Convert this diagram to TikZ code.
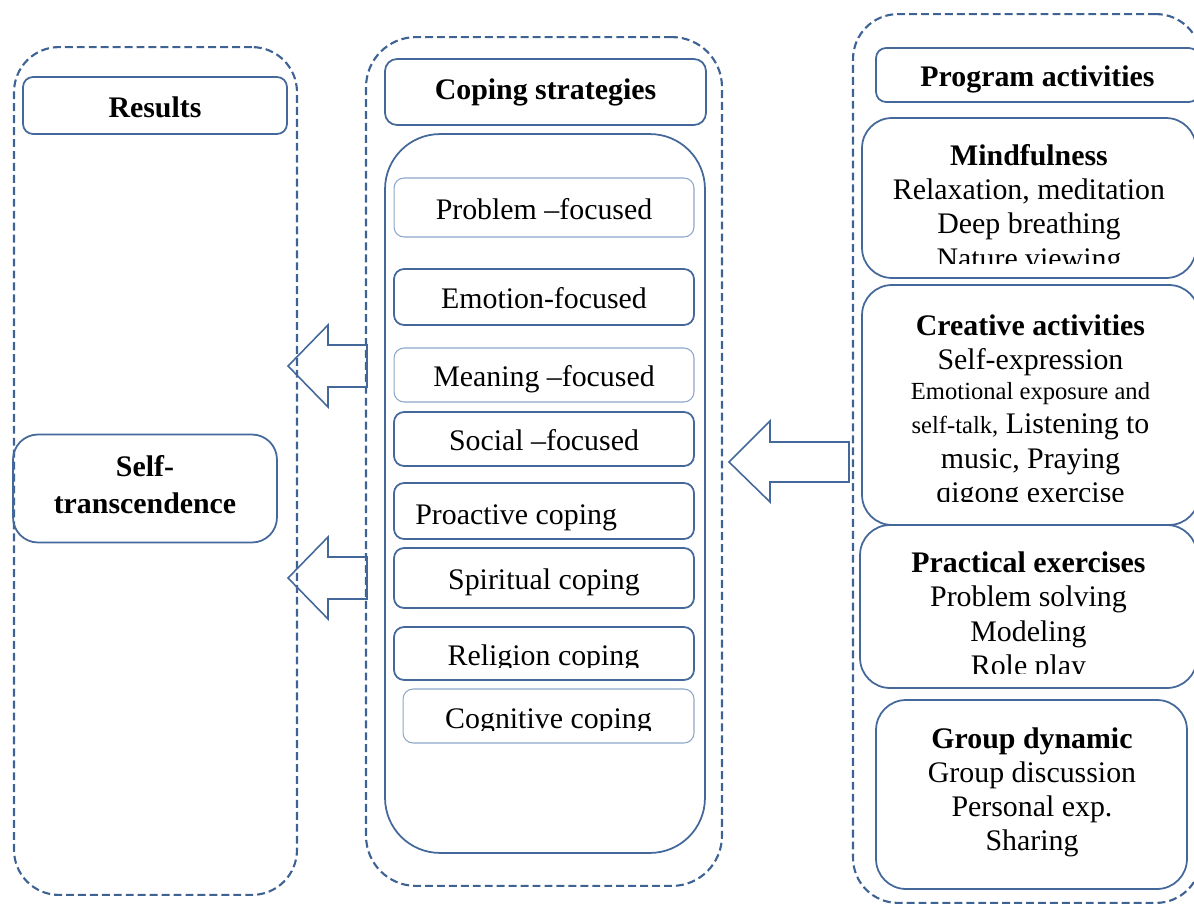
\documentclass[tikz,border=0pt]{standalone}
\usepackage{fontspec}
\setmainfont{Liberation Serif}
\usetikzlibrary{calc}
\definecolor{frameblue}{RGB}{62,98,148}
\definecolor{boxblue}{RGB}{68,104,154}
\definecolor{lightblue}{RGB}{140,166,202}

\begin{document}
\begin{tikzpicture}[x=0.02cm, y=-0.02cm,
    dashframe/.style={draw=frameblue, line width=1.2pt, dash pattern=on 4.5pt off 2.3pt, rounded corners=0.9cm, inner sep=0pt},
    box/.style={draw=boxblue, line width=1pt, rounded corners=0.2cm, inner sep=0pt},
    litebox/.style={draw=lightblue, line width=0.6pt, rounded corners=0.2cm, inner sep=0pt},
    bigarrow/.style={draw=boxblue, line width=0.9pt, line join=miter},
    txt/.style={font=\fontsize{17}{19.5}\selectfont, inner sep=0pt, align=center},
    head/.style={font=\fontsize{17}{19.5}\selectfont\bfseries, inner sep=0pt, align=center},
    oneline/.style={text height=13.5pt, text depth=0pt}]
    \useasboundingbox (0,0) rectangle (1194,909);
    \clip (0,0) rectangle (1194,909);

    % Results column
    \node[dashframe, minimum width=5.66cm, minimum height=16.96cm] (resframe) at (155.5,471) {};
    \node[box, head, oneline, minimum width=5.28cm, minimum height=1.14cm] (results) at (155,105.5) {Results};
    \node[box, rounded corners=0.5cm, minimum width=5.28cm, minimum height=2.16cm] (selftr) at (145,488.5) {};
    \node[head, anchor=north] (selftxt) at (145,455) {Self-\\[1.5pt]transcendence};

    % Coping strategies column
    \node[dashframe, rounded corners=1cm, minimum width=7.12cm, minimum height=16.98cm] (copeframe) at (544,461.5) {};
    \node[box, head, rounded corners=0.24cm, minimum width=6.42cm, minimum height=1.32cm] (copetitle) at (545.5,92) {Coping strategies};
    \node[box, rounded corners=1.1cm, minimum width=6.4cm, minimum height=14.38cm] (copelist) at (545,493.5) {};
    \node[litebox, txt, oneline, minimum width=6cm, minimum height=1.18cm] (problem) at (544,207.5) {Problem –focused};
    \node[box, txt, oneline, minimum width=6cm, minimum height=1.12cm] (emotion) at (544,297) {Emotion-focused};
    \node[litebox, txt, oneline, minimum width=6cm, minimum height=1.08cm] (meaning) at (544,375) {Meaning –focused};
    \node[box, txt, oneline, minimum width=6cm, minimum height=1.08cm] (social) at (544,439) {Social –focused};
    \node[box, minimum width=6cm, minimum height=1.12cm] (proactive) at (544,511) {};
    \node[txt, anchor=base west] (proacttxt) at (415,524) {Proactive coping};
    \node[box, txt, oneline, minimum width=6cm, minimum height=1.2cm] (spiritual) at (544,578) {Spiritual coping};
    \node[box, minimum width=6cm, minimum height=1.06cm] (religion) at (544,653.5) {};
    \node[litebox, minimum width=5.82cm, minimum height=1.08cm] (cognitive) at (548.5,716) {};
    \begin{scope}
        \clip (394,627) rectangle (694,667);
        \node[txt, anchor=base] (religtxt) at (543.5,665) {Religion coping};
    \end{scope}
    \begin{scope}
        \clip (403,689) rectangle (694,730);
        \node[txt, anchor=base] (cogntxt) at (548.5,728) {Cognitive coping};
    \end{scope}

    % Program activities column
    \node[dashframe, minimum width=6.96cm, minimum height=17.78cm] (actframe) at (1027,458.5) {};
    \node[box, head, oneline, minimum width=6.46cm, minimum height=1.08cm] (acttitle) at (1037.5,75) {Program activities};
    \node[box, rounded corners=0.6cm, minimum width=6.68cm, minimum height=3.2cm] (mindful) at (1029,198) {};
    \node[box, rounded corners=0.6cm, minimum width=6.74cm, minimum height=4.8cm] (creative) at (1030.5,405) {};
    \node[box, rounded corners=0.6cm, minimum width=6.74cm, minimum height=3.26cm] (practical) at (1028.5,606.5) {};
    \node[box, rounded corners=0.6cm, minimum width=6.22cm, minimum height=3.78cm] (group) at (1031.5,794.5) {};
    \begin{scope}
        \clip (850,110) rectangle (1200,263);
        \node[txt, anchor=north] (mindtxt) at (1029,144) {\textbf{Mindfulness}\\Relaxation, meditation\\Deep breathing\\Nature viewing};
    \end{scope}
    \begin{scope}
        \clip (850,280) rectangle (1200,501);
        \node[txt, anchor=north] (creattxt) at (1030.5,314.5) {\textbf{Creative activities}\\Self-expression\\[-2.5pt]{\fontsize{14}{16}\selectfont Emotional exposure and}\\{\fontsize{14}{16}\selectfont self-talk,} Listening to\\music, Praying\\qigong exercise};
    \end{scope}
    \begin{scope}
        \clip (850,520) rectangle (1200,673);
        \node[txt, anchor=north] (practtxt) at (1028.5,551.5) {\textbf{Practical exercises}\\Problem solving\\Modeling\\Role play};
    \end{scope}
    \node[txt, anchor=north] (grouptxt) at (1032,727) {\textbf{Group dynamic}\\Group discussion\\Personal exp.\\Sharing};

    % block arrows
    \coordinate (tipres1) at (resframe.east |- 0,366);
    \coordinate (tipres2) at (resframe.east |- 0,578);
    \coordinate (tipcope) at (copeframe.east |- 0,462);
    \draw[bigarrow] ([xshift=-0.2cm]tipres1) -- ++(40,-41) -- ++(0,20) -- ++(39,0) -- ++(0,42) -- ++(-39,0) -- ++(0,20) -- cycle;
    \draw[bigarrow] ([xshift=-0.2cm]tipres2) -- ++(40,-41) -- ++(0,20) -- ++(39,0) -- ++(0,42) -- ++(-39,0) -- ++(0,20) -- cycle;
    \draw[bigarrow] ([xshift=0.12cm]tipcope) -- ++(41,-41) -- ++(0,21) -- ++(79,0) -- ++(0,40) -- ++(-79,0) -- ++(0,20) -- cycle;
\end{tikzpicture}
\end{document}
